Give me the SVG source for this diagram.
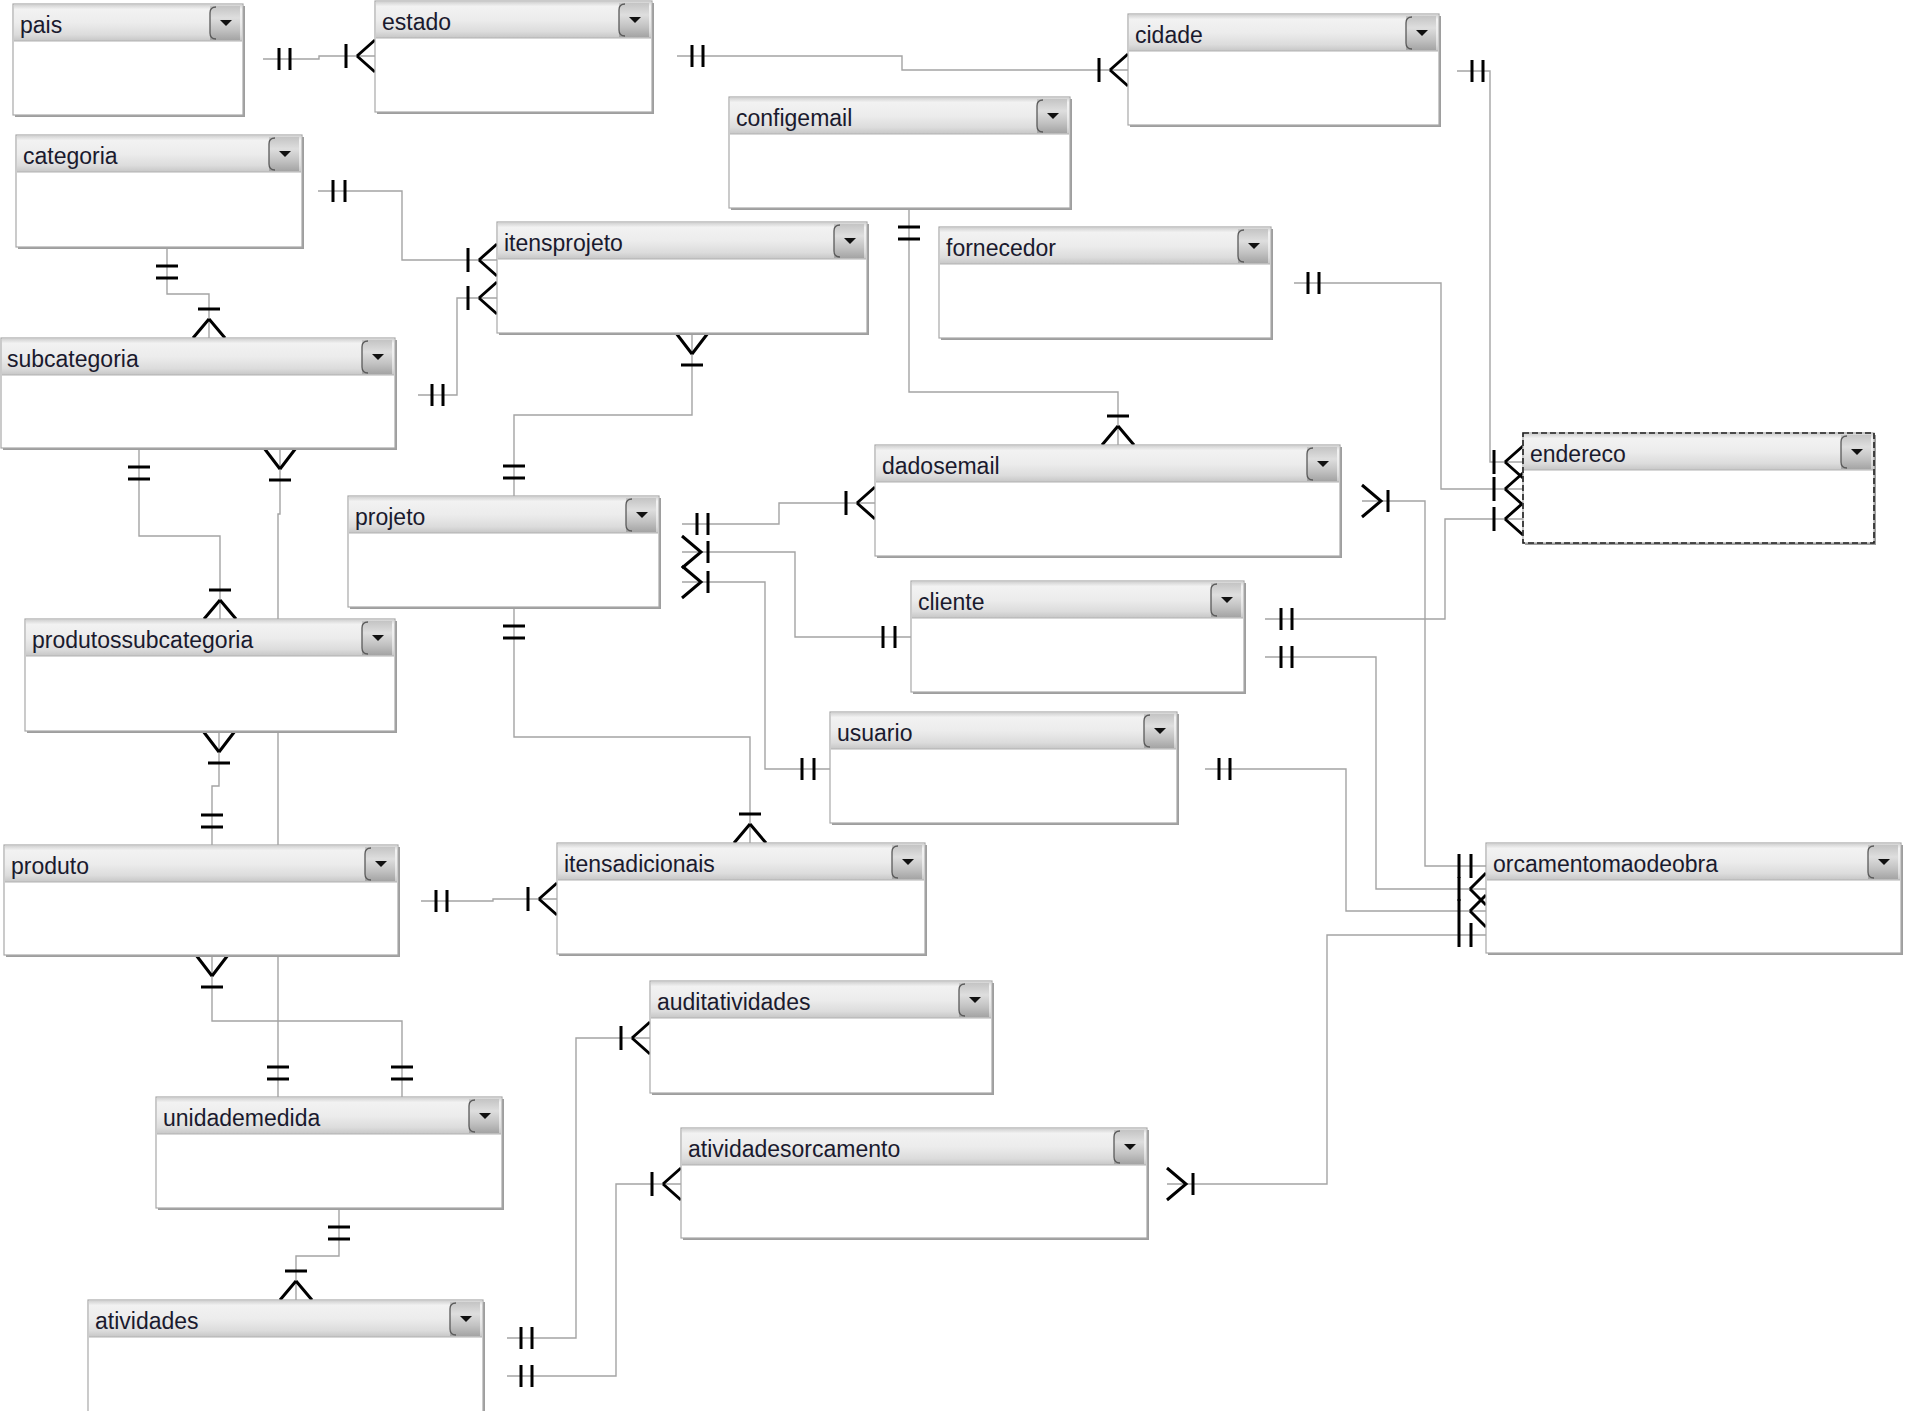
<svg xmlns="http://www.w3.org/2000/svg" xmlns:xlink="http://www.w3.org/1999/xlink" width="1905" height="1411" viewBox="0 0 1905 1411">
<style>
.ln{fill:none;stroke:#a4a4a4;stroke-width:1.4}
.sym{fill:none;stroke:#000;stroke-width:3}
.shadow{fill:#9e9e9e}
.body{fill:#fff;stroke:#a8a8a8;stroke-width:1.2}
.dash{fill:none;stroke:#222;stroke-width:1.6;stroke-dasharray:6,3}
.hdr{fill:url(#hg)}
.sep{stroke:#b2b2b2;stroke-width:1.2}
.title{font-family:"Liberation Sans",Arial,sans-serif;font-size:23px;fill:#1a1a2e}
</style>
<defs>
<linearGradient id="hg" x1="0" y1="0" x2="0" y2="1">
<stop offset="0" stop-color="#d4d4d4"/>
<stop offset="0.12" stop-color="#f2f2f2"/>
<stop offset="0.5" stop-color="#ececec"/>
<stop offset="0.82" stop-color="#dcdcdc"/>
<stop offset="1" stop-color="#c6c6c6"/>
</linearGradient>
<linearGradient id="bg" x1="0" y1="0" x2="0" y2="1">
<stop offset="0" stop-color="#c4c4c4"/>
<stop offset="0.35" stop-color="#dedede"/>
<stop offset="0.7" stop-color="#c2c2c2"/>
<stop offset="1" stop-color="#a4a4a4"/>
</linearGradient>
<g id="dd">
<rect x="-33" y="2" width="30" height="34" fill="url(#bg)"/>
<path d="M-27,3 Q-33,3 -33,9 V29 Q-33,35 -27,35" fill="none" stroke="#5a5a5a" stroke-width="1.3"/>
<path d="M-23,16 H-11 L-17,22 Z" fill="#111"/>
</g>
</defs>
<rect width="1905" height="1411" fill="#fff"/>
<g id="connectors">
<g id="r1"><path class="ln" d="M263,59 H319 V56 H375"/><path class="sym" d="M279,48 V70 M290,48 V70 M346,44 V68 M357,56 L375,40 M357,56 L375,72"/></g>
<g id="r2"><path class="ln" d="M677,56 H902 V70 H1128"/><path class="sym" d="M692,45 V67 M703,45 V67 M1099,58 V82 M1110,70 L1128,54 M1110,70 L1128,86"/></g>
<g id="r3"><path class="ln" d="M1457,71 H1490 V462 H1523"/><path class="sym" d="M1472,60 V82 M1483,60 V82 M1494,450 V474 M1505,462 L1523,446 M1505,462 L1523,478"/></g>
<g id="r4"><path class="ln" d="M318,191 H402 V260 H497"/><path class="sym" d="M333,180 V202 M345,180 V202 M468,248 V272 M479,260 L497,244 M479,260 L497,276"/></g>
<g id="r5"><path class="ln" d="M418,395 H457 V298 H497"/><path class="sym" d="M432,384 V406 M443,384 V406 M468,286 V310 M479,298 L497,282 M479,298 L497,314"/></g>
<g id="r6"><path class="ln" d="M167,247 V294 H209 V338"/><path class="sym" d="M156,266 H178 M156,278 H178 M198,309 H220 M209,319 L193,338 M209,319 L225,338"/></g>
<g id="r7"><path class="ln" d="M909,208 V392 H1118 V445"/><path class="sym" d="M898,227 H920 M898,239 H920 M1107,416 H1129 M1118,426 L1102,445 M1118,426 L1134,445"/></g>
<g id="r8"><path class="ln" d="M692,333 V415 H514 V496"/><path class="sym" d="M692,354 L676,333 M692,354 L708,333 M681,365 H703 M503,466 H525 M503,478 H525"/></g>
<g id="r9"><path class="ln" d="M139,448 V536 H220 V619"/><path class="sym" d="M128,467 H150 M128,479 H150 M209,590 H231 M220,600 L204,619 M220,600 L236,619"/></g>
<g id="r10"><path class="ln" d="M280,448 V514 H278 V1097"/><path class="sym" d="M280,469 L264,448 M280,469 L296,448 M269,480 H291 M267,1067 H289 M267,1079 H289"/></g>
<g id="r11"><path class="ln" d="M219,731 V786 H212 V845"/><path class="sym" d="M219,752 L203,731 M219,752 L235,731 M208,763 H230 M201,815 H223 M201,827 H223"/></g>
<g id="r12"><path class="ln" d="M421,901 H493 V899 H557"/><path class="sym" d="M436,890 V912 M447,890 V912 M528,887 V911 M539,899 L557,883 M539,899 L557,915"/></g>
<g id="r13"><path class="ln" d="M212,955 V1021 H402 V1097"/><path class="sym" d="M212,976 L196,955 M212,976 L228,955 M201,987 H223 M391,1067 H413 M391,1079 H413"/></g>
<g id="r14"><path class="ln" d="M339,1208 V1256 H296 V1300"/><path class="sym" d="M328,1227 H350 M328,1239 H350 M285,1271 H307 M296,1281 L280,1300 M296,1281 L312,1300"/></g>
<g id="r15"><path class="ln" d="M514,607 V737 H750 V843"/><path class="sym" d="M503,626 H525 M503,638 H525 M739,814 H761 M750,824 L734,843 M750,824 L766,843"/></g>
<g id="r16"><path class="ln" d="M682,524 H779 V503 H875"/><path class="sym" d="M697,513 V535 M708,513 V535 M846,491 V515 M857,503 L875,487 M857,503 L875,519"/></g>
<g id="r17"><path class="ln" d="M682,552 H795 V637 H911"/><path class="sym" d="M682,536 L701,552 L682,568 M708,541 V563 M883,626 V648 M895,626 V648"/></g>
<g id="r18"><path class="ln" d="M682,582 H765 V769 H830"/><path class="sym" d="M682,566 L701,582 L682,598 M708,571 V593 M802,758 V780 M814,758 V780"/></g>
<g id="r19"><path class="ln" d="M1362,501 H1425 V866 H1486"/><path class="sym" d="M1362,485 L1381,501 L1362,517 M1388,490 V512 M1459,854 V878 M1471,854 V878"/></g>
<g id="r20"><path class="ln" d="M1294,283 H1441 V489 H1523"/><path class="sym" d="M1308,272 V294 M1319,272 V294 M1494,477 V501 M1505,489 L1523,473 M1505,489 L1523,505"/></g>
<g id="r21"><path class="ln" d="M1265,619 H1445 V519 H1523"/><path class="sym" d="M1281,608 V630 M1292,608 V630 M1494,507 V531 M1505,519 L1523,503 M1505,519 L1523,535"/></g>
<g id="r22"><path class="ln" d="M1265,657 H1376 V889 H1486"/><path class="sym" d="M1281,646 V668 M1292,646 V668 M1459,877 V901 M1470,889 L1486,873 M1470,889 L1486,905"/></g>
<g id="r23"><path class="ln" d="M1205,769 H1346 V911 H1486"/><path class="sym" d="M1219,758 V780 M1230,758 V780 M1459,899 V923 M1470,911 L1486,895 M1470,911 L1486,927"/></g>
<g id="r24"><path class="ln" d="M1167,1184 H1327 V935 H1486"/><path class="sym" d="M1167,1168 L1186,1184 L1167,1200 M1193,1173 V1195 M1459,923 V947 M1471,923 V947"/></g>
<g id="r25"><path class="ln" d="M507,1338 H576 V1038 H650"/><path class="sym" d="M521,1327 V1349 M532,1327 V1349 M621,1026 V1050 M632,1038 L650,1022 M632,1038 L650,1054"/></g>
<g id="r26"><path class="ln" d="M507,1376 H616 V1184 H681"/><path class="sym" d="M521,1365 V1387 M532,1365 V1387 M652,1172 V1196 M663,1184 L681,1168 M663,1184 L681,1200"/></g>
</g>
<g id="nodes">
<g id="pais"><rect class="shadow" x="15" y="6" width="230" height="111"/><rect class="body" x="13" y="4" width="230" height="111"/><rect class="hdr" x="14" y="5" width="228" height="36"/><line class="sep" x1="14" y1="41" x2="242" y2="41"/><use href="#dd" x="243" y="4"/><text class="title" x="20" y="33">pais</text></g>
<g id="estado"><rect class="shadow" x="377" y="3" width="277" height="111"/><rect class="body" x="375" y="1" width="277" height="111"/><rect class="hdr" x="376" y="2" width="275" height="36"/><line class="sep" x1="376" y1="38" x2="651" y2="38"/><use href="#dd" x="652" y="1"/><text class="title" x="382" y="30">estado</text></g>
<g id="cidade"><rect class="shadow" x="1130" y="16" width="311" height="111"/><rect class="body" x="1128" y="14" width="311" height="111"/><rect class="hdr" x="1129" y="15" width="309" height="36"/><line class="sep" x1="1129" y1="51" x2="1438" y2="51"/><use href="#dd" x="1439" y="14"/><text class="title" x="1135" y="43">cidade</text></g>
<g id="configemail"><rect class="shadow" x="731" y="99" width="341" height="111"/><rect class="body" x="729" y="97" width="341" height="111"/><rect class="hdr" x="730" y="98" width="339" height="36"/><line class="sep" x1="730" y1="134" x2="1069" y2="134"/><use href="#dd" x="1070" y="97"/><text class="title" x="736" y="126">configemail</text></g>
<g id="categoria"><rect class="shadow" x="18" y="137" width="286" height="112"/><rect class="body" x="16" y="135" width="286" height="112"/><rect class="hdr" x="17" y="136" width="284" height="36"/><line class="sep" x1="17" y1="172" x2="301" y2="172"/><use href="#dd" x="302" y="135"/><text class="title" x="23" y="164">categoria</text></g>
<g id="itensprojeto"><rect class="shadow" x="499" y="224" width="370" height="111"/><rect class="body" x="497" y="222" width="370" height="111"/><rect class="hdr" x="498" y="223" width="368" height="36"/><line class="sep" x1="498" y1="259" x2="866" y2="259"/><use href="#dd" x="867" y="222"/><text class="title" x="504" y="251">itensprojeto</text></g>
<g id="fornecedor"><rect class="shadow" x="941" y="229" width="332" height="111"/><rect class="body" x="939" y="227" width="332" height="111"/><rect class="hdr" x="940" y="228" width="330" height="36"/><line class="sep" x1="940" y1="264" x2="1270" y2="264"/><use href="#dd" x="1271" y="227"/><text class="title" x="946" y="256">fornecedor</text></g>
<g id="subcategoria"><rect class="shadow" x="3" y="340" width="394" height="110"/><rect class="body" x="1" y="338" width="394" height="110"/><rect class="hdr" x="2" y="339" width="392" height="36"/><line class="sep" x1="2" y1="375" x2="394" y2="375"/><use href="#dd" x="395" y="338"/><text class="title" x="7" y="367">subcategoria</text></g>
<g id="endereco"><rect class="shadow" x="1525" y="435" width="351" height="110"/><rect class="body" x="1523" y="433" width="351" height="110"/><rect class="hdr" x="1524" y="434" width="349" height="36"/><line class="sep" x1="1524" y1="470" x2="1873" y2="470"/><use href="#dd" x="1874" y="433"/><rect class="dash" x="1523" y="433" width="351" height="110"/><text class="title" x="1530" y="462">endereco</text></g>
<g id="dadosemail"><rect class="shadow" x="877" y="447" width="465" height="111"/><rect class="body" x="875" y="445" width="465" height="111"/><rect class="hdr" x="876" y="446" width="463" height="36"/><line class="sep" x1="876" y1="482" x2="1339" y2="482"/><use href="#dd" x="1340" y="445"/><text class="title" x="882" y="474">dadosemail</text></g>
<g id="projeto"><rect class="shadow" x="350" y="498" width="311" height="111"/><rect class="body" x="348" y="496" width="311" height="111"/><rect class="hdr" x="349" y="497" width="309" height="36"/><line class="sep" x1="349" y1="533" x2="658" y2="533"/><use href="#dd" x="659" y="496"/><text class="title" x="355" y="525">projeto</text></g>
<g id="cliente"><rect class="shadow" x="913" y="583" width="333" height="111"/><rect class="body" x="911" y="581" width="333" height="111"/><rect class="hdr" x="912" y="582" width="331" height="36"/><line class="sep" x1="912" y1="618" x2="1243" y2="618"/><use href="#dd" x="1244" y="581"/><text class="title" x="918" y="610">cliente</text></g>
<g id="produtossubcategoria"><rect class="shadow" x="27" y="621" width="370" height="112"/><rect class="body" x="25" y="619" width="370" height="112"/><rect class="hdr" x="26" y="620" width="368" height="36"/><line class="sep" x1="26" y1="656" x2="394" y2="656"/><use href="#dd" x="395" y="619"/><text class="title" x="32" y="648">produtossubcategoria</text></g>
<g id="usuario"><rect class="shadow" x="832" y="714" width="347" height="111"/><rect class="body" x="830" y="712" width="347" height="111"/><rect class="hdr" x="831" y="713" width="345" height="36"/><line class="sep" x1="831" y1="749" x2="1176" y2="749"/><use href="#dd" x="1177" y="712"/><text class="title" x="837" y="741">usuario</text></g>
<g id="produto"><rect class="shadow" x="6" y="847" width="394" height="110"/><rect class="body" x="4" y="845" width="394" height="110"/><rect class="hdr" x="5" y="846" width="392" height="36"/><line class="sep" x1="5" y1="882" x2="397" y2="882"/><use href="#dd" x="398" y="845"/><text class="title" x="11" y="874">produto</text></g>
<g id="itensadicionais"><rect class="shadow" x="559" y="845" width="368" height="111"/><rect class="body" x="557" y="843" width="368" height="111"/><rect class="hdr" x="558" y="844" width="366" height="36"/><line class="sep" x1="558" y1="880" x2="924" y2="880"/><use href="#dd" x="925" y="843"/><text class="title" x="564" y="872">itensadicionais</text></g>
<g id="orcamentomaodeobra"><rect class="shadow" x="1488" y="845" width="415" height="110"/><rect class="body" x="1486" y="843" width="415" height="110"/><rect class="hdr" x="1487" y="844" width="413" height="36"/><line class="sep" x1="1487" y1="880" x2="1900" y2="880"/><use href="#dd" x="1901" y="843"/><text class="title" x="1493" y="872">orcamentomaodeobra</text></g>
<g id="auditatividades"><rect class="shadow" x="652" y="983" width="342" height="112"/><rect class="body" x="650" y="981" width="342" height="112"/><rect class="hdr" x="651" y="982" width="340" height="36"/><line class="sep" x1="651" y1="1018" x2="991" y2="1018"/><use href="#dd" x="992" y="981"/><text class="title" x="657" y="1010">auditatividades</text></g>
<g id="unidademedida"><rect class="shadow" x="158" y="1099" width="346" height="111"/><rect class="body" x="156" y="1097" width="346" height="111"/><rect class="hdr" x="157" y="1098" width="344" height="36"/><line class="sep" x1="157" y1="1134" x2="501" y2="1134"/><use href="#dd" x="502" y="1097"/><text class="title" x="163" y="1126">unidademedida</text></g>
<g id="atividadesorcamento"><rect class="shadow" x="683" y="1130" width="466" height="110"/><rect class="body" x="681" y="1128" width="466" height="110"/><rect class="hdr" x="682" y="1129" width="464" height="36"/><line class="sep" x1="682" y1="1165" x2="1146" y2="1165"/><use href="#dd" x="1147" y="1128"/><text class="title" x="688" y="1157">atividadesorcamento</text></g>
<g id="atividades"><rect class="shadow" x="90" y="1302" width="395" height="112"/><rect class="body" x="88" y="1300" width="395" height="112"/><rect class="hdr" x="89" y="1301" width="393" height="36"/><line class="sep" x1="89" y1="1337" x2="482" y2="1337"/><use href="#dd" x="483" y="1300"/><text class="title" x="95" y="1329">atividades</text></g>
</g>
</svg>
